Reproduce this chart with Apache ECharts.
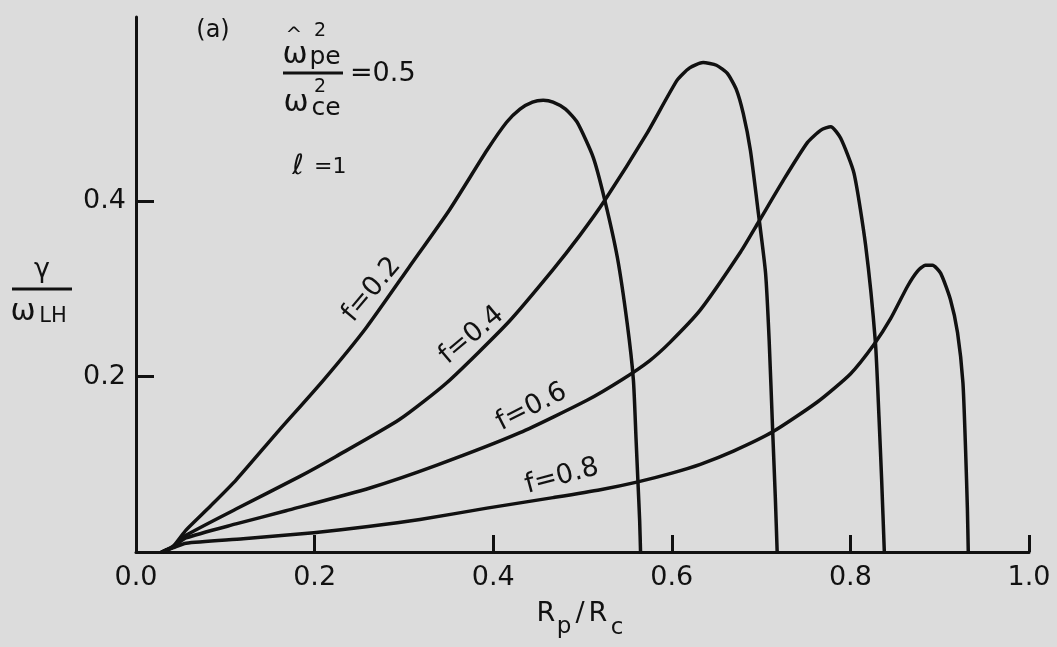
<!DOCTYPE html>
<html>
<head>
<meta charset="utf-8">
<script src="https://cdn.jsdelivr.net/npm/echarts@6/dist/echarts.min.js"></script>
<style>
html,body{margin:0;padding:0;background:#dcdcdc;}
#chart{width:1057px;height:647px;}
</style>
</head>
<body>
<div id="chart"></div>
<script>
// ---- data ----
const xTickValues = [0.2, 0.4, 0.6, 0.8, 1.0];
const xLabelValues = [0.0, 0.2, 0.4, 0.6, 0.8, 1.0];
const yTickValues = [0.2, 0.4];
const curveNames = ['f=0.2', 'f=0.4', 'f=0.6', 'f=0.8'];

const curveF02 = [[0.029,0],[0.042,0.007],[0.056,0.025],[0.084,0.053],[0.112,0.082],[0.157,0.135],[0.210,0.196],[0.258,0.256],[0.306,0.325],[0.351,0.390],[0.393,0.458],[0.415,0.490],[0.430,0.505],[0.444,0.513],[0.456,0.515],[0.467,0.513],[0.481,0.505],[0.494,0.490],[0.512,0.450],[0.525,0.401],[0.539,0.336],[0.550,0.261],[0.557,0.196],[0.560,0.128],[0.562,0.082],[0.564,0.036],[0.565,0]];
const curveF04 = [[0.029,0],[0.042,0.006],[0.056,0.019],[0.112,0.049],[0.183,0.086],[0.224,0.109],[0.295,0.151],[0.348,0.193],[0.417,0.262],[0.467,0.322],[0.497,0.361],[0.525,0.401],[0.572,0.477],[0.606,0.538],[0.620,0.552],[0.635,0.558],[0.650,0.555],[0.662,0.546],[0.672,0.528],[0.680,0.500],[0.688,0.458],[0.697,0.386],[0.705,0.318],[0.709,0.242],[0.713,0.137],[0.716,0.060],[0.718,0]];
const curveF06 = [[0.029,0],[0.042,0.006],[0.056,0.016],[0.112,0.032],[0.168,0.047],[0.262,0.073],[0.337,0.099],[0.430,0.136],[0.505,0.173],[0.545,0.197],[0.575,0.218],[0.598,0.239],[0.632,0.276],[0.677,0.342],[0.697,0.376],[0.725,0.424],[0.752,0.467],[0.767,0.481],[0.778,0.485],[0.789,0.472],[0.804,0.432],[0.817,0.350],[0.828,0.239],[0.832,0.154],[0.835,0.082],[0.838,0]];
const curveF08 = [[0.029,0],[0.042,0.005],[0.056,0.010],[0.120,0.015],[0.199,0.022],[0.260,0.029],[0.318,0.037],[0.393,0.050],[0.467,0.062],[0.520,0.071],[0.562,0.080],[0.600,0.090],[0.632,0.100],[0.669,0.115],[0.713,0.137],[0.763,0.171],[0.800,0.203],[0.826,0.236],[0.845,0.266],[0.864,0.303],[0.875,0.320],[0.884,0.327],[0.892,0.327],[0.901,0.318],[0.912,0.288],[0.920,0.250],[0.926,0.193],[0.929,0.116],[0.931,0.050],[0.932,0]];

// curve label anchors in data coordinates and rotation (degrees)
const labelAnchors = [[0.264,0.299],[0.376,0.247],[0.443,0.165],[0.477,0.086]];
const labelAngles = [50, 40, 27, 15];

// ---- chart ----
const curves = [curveF02, curveF04, curveF06, curveF08];
const FONT = '"DejaVu Sans", sans-serif';
const INK = '#111111';
const chart = echarts.init(document.getElementById('chart'), null, {renderer: 'canvas'});

function txt(x, y, text, size, o) {
  o = o || {};
  const al = o.align || 'center', va = o.va || 'middle';
  return {
    type: 'text', x: x, y: y, rotation: o.rot || 0, silent: true, z: 10,
    style: {
      text: text, fill: INK,
      font: (o.italic ? 'italic ' : '') + (o.bold ? 'bold ' : '') + size + 'px ' + FONT,
      textAlign: al, textVerticalAlign: va, align: al, verticalAlign: va
    }
  };
}
function bar(x1, x2, y) {
  return {type: 'line', silent: true, z: 10, shape: {x1: x1, y1: y, x2: x2, y2: y}, style: {stroke: INK, lineWidth: 3}};
}

const fixedGraphics = [
  txt(213, 31, '(a)', 24),
  // numerator  ω̂²_pe
  txt(295, 55, 'ω', 30),
  txt(294, 36, '^', 20),
  txt(320, 31, '2', 19),
  txt(325, 57, 'pe', 25),
  bar(283, 343, 73),
  txt(350, 74, '=0.5', 27, {align: 'left'}),
  // denominator ω²_ce
  txt(296, 103, 'ω', 30),
  txt(320, 87, '2', 19),
  txt(326, 108, 'ce', 25),
  // ℓ = 1
  txt(298, 167, 'ℓ', 28, {italic: true}),
  txt(314, 167, '=1', 22, {align: 'left'}),
  // y-axis name γ / ω_LH
  txt(42, 270, 'γ', 27),
  bar(12, 72, 289),
  txt(23, 312, 'ω', 30),
  txt(53, 317, 'LH', 21),
  // x-axis name R_p / R_c
  txt(546, 614, 'R', 27),
  txt(564, 627, 'p', 23),
  txt(580, 614, '/', 27),
  txt(598, 614, 'R', 27),
  txt(617, 628, 'c', 23)
];

const option = {
  backgroundColor: '#dcdcdc',
  animation: false,
  grid: {left: 136, right: 28, top: 17, bottom: 95, containLabel: false, outerBoundsMode: 'none'},
  xAxis: {
    type: 'value', min: 0, max: 1, interval: 0.2,
    axisLine: {show: true, onZero: false, lineStyle: {color: INK, width: 3}},
    axisTick: {show: true, inside: true, length: 17, lineStyle: {color: INK, width: 3}, customValues: xTickValues},
    axisLabel: {customValues: xLabelValues, formatter: v => Number(v).toFixed(1), fontSize: 27, color: INK, fontFamily: FONT, margin: 12},
    splitLine: {show: false}
  },
  yAxis: {
    type: 'value', min: 0, max: 0.61,
    axisLine: {show: true, onZero: false, lineStyle: {color: INK, width: 3}},
    axisTick: {show: true, inside: true, length: 18, lineStyle: {color: INK, width: 3}, customValues: yTickValues},
    axisLabel: {customValues: yTickValues, formatter: v => Number(v).toFixed(1), fontSize: 27, color: INK, fontFamily: FONT, margin: 10},
    splitLine: {show: false}
  },
  series: curves.map((c, i) => ({
    name: curveNames[i], type: 'line', data: c, symbol: 'none', showSymbol: false,
    smooth: 0.2, silent: true,
    lineStyle: {color: INK, width: 3.5, cap: 'round', join: 'round'}, z: 2
  })),
  graphic: fixedGraphics
};
chart.setOption(option);

const labelGraphics = labelAnchors.map((a, i) => {
  const p = chart.convertToPixel({gridIndex: 0}, a);
  return txt(p[0], p[1], curveNames[i], 27, {rot: labelAngles[i] * Math.PI / 180});
});
chart.setOption({graphic: fixedGraphics.concat(labelGraphics)});
</script>
</body>
</html>
